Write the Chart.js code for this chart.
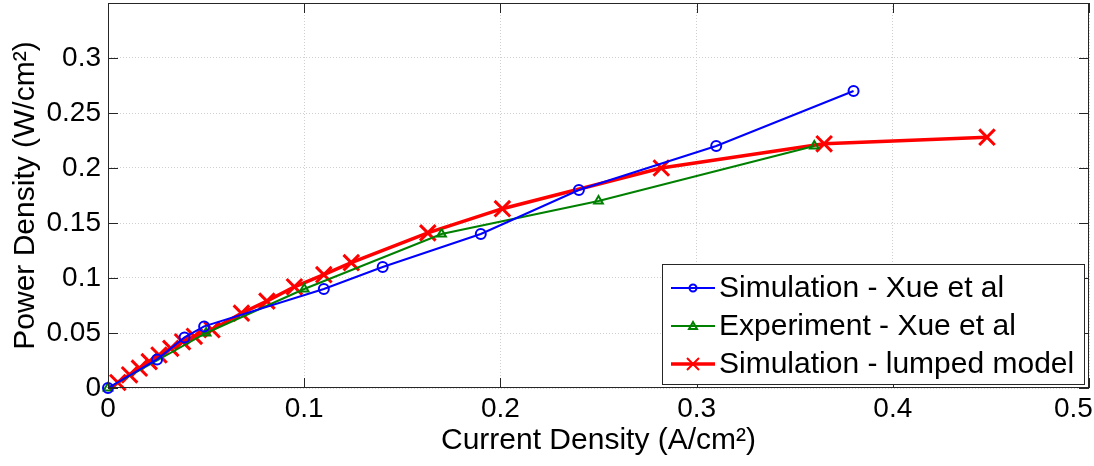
<!DOCTYPE html>
<html>
<head>
<meta charset="utf-8">
<script src="https://cdn.jsdelivr.net/npm/chart.js@4/dist/chart.umd.min.js"></script>
<style>
  html, body { margin: 0; padding: 0; background: #fff; }
  #wrap { width: 1094px; height: 466px; }
</style>
</head>
<body>
<div id="wrap"><canvas id="graficoPotencia"></canvas></div>
<script>
// values (A/cm2, W/cm2)
var simXueX = [0, 0.025, 0.039, 0.049, 0.11, 0.14, 0.19, 0.24, 0.31, 0.38];
var simXueY = [0, 0.026, 0.046, 0.056, 0.09, 0.11, 0.14, 0.18, 0.22, 0.27];

var expXueX = [0, 0.05, 0.1, 0.17, 0.25, 0.36];
var expXueY = [0, 0.05, 0.09, 0.14, 0.17, 0.22];

var lumpedX = [0.005, 0.011, 0.016, 0.021, 0.026, 0.032, 0.038, 0.044, 0.053, 0.068, 0.081, 0.095, 0.11, 0.124, 0.163, 0.201, 0.282, 0.365, 0.448];
var lumpedY = [0.005, 0.012, 0.018, 0.024, 0.03, 0.036, 0.042, 0.047, 0.053, 0.068, 0.079, 0.092, 0.103, 0.114, 0.141, 0.163, 0.2, 0.222, 0.228];

var xTicks = [0, 0.1, 0.2, 0.3, 0.4, 0.5];
var yTicks = [0, 0.05, 0.1, 0.15, 0.2, 0.25, 0.3];

var seriesNames = ['Simulation - Xue et al', 'Experiment - Xue et al', 'Simulation - lumped model'];

function puntos(xs, ys) {
  var out = [];
  for (var i = 0; i < xs.length; i++) out.push({ x: xs[i], y: ys[i] });
  return out;
}

var fuente = 'Liberation Sans, Arial, Helvetica, sans-serif';

/* ---------------- box, inner ticks and legend (MATLAB look) ---------------- */
var marcoPlugin = {
  id: 'marco',
  afterDatasetsDraw: function (chart) {
    var ctx = chart.ctx, a = chart.chartArea;
    var xs = chart.scales.x, ys = chart.scales.y;
    var i, p;
    ctx.save();
    ctx.strokeStyle = '#262626';
    ctx.lineWidth = 1;
    ctx.strokeRect(a.left + 0.5, a.top + 0.5, a.right - a.left - 1, a.bottom - a.top - 1);
    ctx.beginPath();
    for (i = 0; i < xTicks.length; i++) {
      p = Math.round(xs.getPixelForValue(xTicks[i])) + 0.5;
      ctx.moveTo(p, a.bottom); ctx.lineTo(p, a.bottom - 10);
      ctx.moveTo(p, a.top); ctx.lineTo(p, a.top + 10);
    }
    for (i = 0; i < yTicks.length; i++) {
      p = Math.round(ys.getPixelForValue(yTicks[i])) + 0.5;
      ctx.moveTo(a.left, p); ctx.lineTo(a.left + 10, p);
      ctx.moveTo(a.right, p); ctx.lineTo(a.right - 10, p);
    }
    ctx.stroke();
    ctx.restore();
  },
  afterDraw: function (chart) {
    var ctx = chart.ctx, a = chart.chartArea;
    var bx = a.right - 427, by = a.bottom - 124, bw = 422, bh = 120;
    ctx.save();
    ctx.fillStyle = '#fff';
    ctx.fillRect(bx, by, bw, bh);
    ctx.strokeStyle = '#262626';
    ctx.lineWidth = 1;
    ctx.strokeRect(bx + 0.5, by + 0.5, bw, bh);
    var ds = chart.data.datasets;
    for (var i = 0; i < ds.length; i++) {
      var cy = by + 24 + i * 38;
      var cx = bx + 31;
      ctx.strokeStyle = ds[i].borderColor;
      ctx.lineWidth = ds[i].borderWidth;
      ctx.beginPath();
      ctx.moveTo(bx + 9, cy); ctx.lineTo(bx + 53, cy);
      ctx.stroke();
      ctx.lineWidth = 2;
      ctx.beginPath();
      if (ds[i].pointStyle === 'circle') {
        ctx.arc(cx, cy, 3.5, 0, Math.PI * 2);
      } else if (ds[i].pointStyle === 'triangle') {
        ctx.moveTo(cx - 4, cy + 3); ctx.lineTo(cx + 4, cy + 3); ctx.lineTo(cx, cy - 4); ctx.closePath();
      } else {
        ctx.moveTo(cx - 6, cy - 6); ctx.lineTo(cx + 6, cy + 6);
        ctx.moveTo(cx + 6, cy - 6); ctx.lineTo(cx - 6, cy + 6);
      }
      ctx.stroke();
      ctx.fillStyle = '#000';
      ctx.font = '30px ' + fuente;
      ctx.textBaseline = 'middle';
      ctx.textAlign = 'left';
      ctx.fillText(ds[i].label, bx + 57, cy + 1);
    }
    ctx.restore();
  }
};

var ctx = document.getElementById('graficoPotencia').getContext('2d');
var graficoPotencia = new Chart(ctx, {
  type: 'line',
  data: {
    datasets: [{
      label: seriesNames[0],
      data: puntos(simXueX, simXueY),
      borderColor: '#0000ff',
      borderWidth: 2,
      pointStyle: 'circle',
      pointRadius: 5,
      pointBorderWidth: 2,
      pointBackgroundColor: 'rgba(0,0,0,0)',
      pointBorderColor: '#0000ff',
      clip: false
    }, {
      label: seriesNames[1],
      data: puntos(expXueX, expXueY),
      borderColor: '#008000',
      borderWidth: 2,
      pointStyle: 'triangle',
      pointRadius: 5,
      pointBorderWidth: 2,
      pointBackgroundColor: 'rgba(0,0,0,0)',
      pointBorderColor: '#008000',
      clip: false
    }, {
      label: seriesNames[2],
      data: puntos(lumpedX, lumpedY),
      borderColor: '#ff0000',
      borderWidth: 3.5,
      pointStyle: 'crossRot',
      pointRadius: 11,
      pointBorderWidth: 3,
      pointBorderColor: '#ff0000',
      clip: false
    }]
  },
  options: {
    responsive: true,
    maintainAspectRatio: false,
    animation: false,
    layout: { autoPadding: false, padding: { top: 3, right: 5, left: 0, bottom: 0 } },
    plugins: {
      legend: { display: false },
      tooltip: { enabled: false }
    },
    scales: {
      x: {
        type: 'linear',
        min: 0,
        max: 0.5,
        afterBuildTicks: function (scale) {
          scale.ticks = xTicks.map(function (v) { return { value: v }; });
        },
        afterFit: function (scale) {
          scale.height = 78;
          scale.paddingLeft = 0;
          scale.paddingRight = 0;
        },
        grid: { color: '#cfcfcf', drawTicks: false },
        border: { display: false, dash: [1, 2] },
        ticks: {
          padding: 4,
          color: '#000',
          maxRotation: 0,
          autoSkip: false,
          font: { family: fuente, size: 28 },
          // last label sits at the canvas edge, pad it so it stays visible
          callback: function (v, i, all) { return i === all.length - 1 ? String(v) + '    ' : String(v); }
        },
        title: {
          display: true,
          text: 'Current Density (A/cm²)',
          color: '#000',
          font: { family: fuente, size: 30 },
          padding: { top: 0, bottom: 7 }
        }
      },
      y: {
        type: 'linear',
        min: 0,
        max: 0.35,
        afterBuildTicks: function (scale) {
          scale.ticks = yTicks.map(function (v) { return { value: v }; });
        },
        afterFit: function (scale) {
          scale.width = 108;
          scale.paddingTop = 0;
          scale.paddingBottom = 0;
        },
        grid: { color: '#cfcfcf', drawTicks: false },
        border: { display: false, dash: [1, 2] },
        ticks: {
          padding: 7,
          color: '#000',
          autoSkip: false,
          font: { family: fuente, size: 28 },
          callback: function (v) { return String(v); }
        },
        title: {
          display: true,
          text: 'Power Density (W/cm²)',
          color: '#000',
          font: { family: fuente, size: 30 },
          padding: { top: 8, bottom: 0 }
        }
      }
    }
  },
  plugins: [marcoPlugin]
});
</script>
</body>
</html>
